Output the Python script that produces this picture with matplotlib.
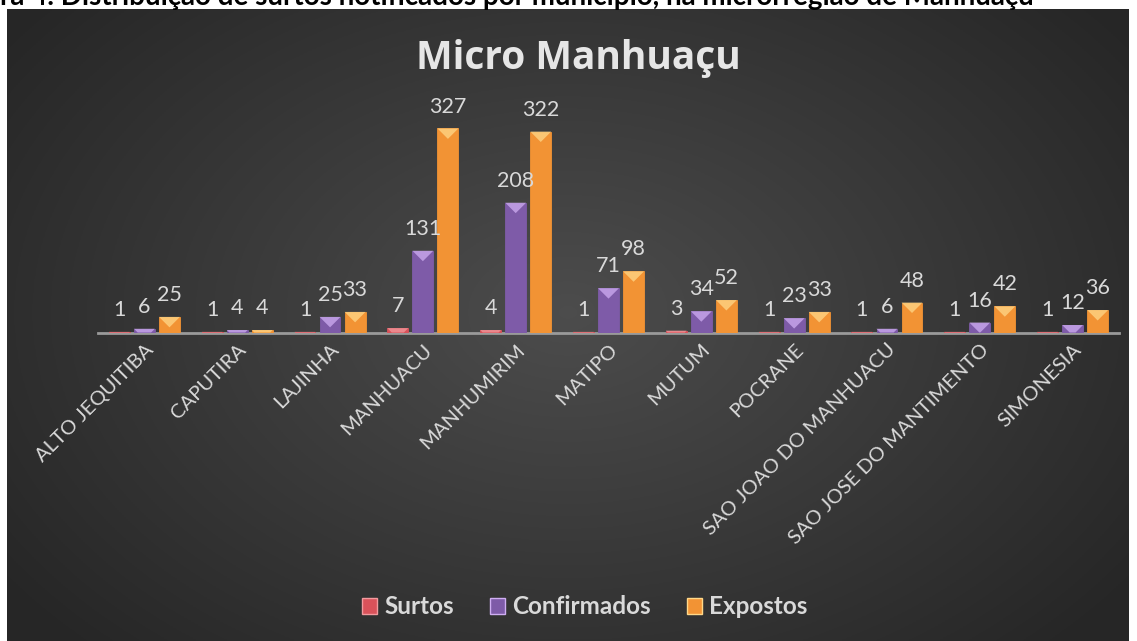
import numpy as np
import matplotlib
matplotlib.use("Agg")
import matplotlib.pyplot as plt
from matplotlib.patches import Polygon, Patch

plt.rcParams['font.family'] = ['Lato', 'DejaVu Sans']

municipios = ["ALTO JEQUITIBA", "CAPUTIRA", "LAJINHA", "MANHUACU", "MANHUMIRIM",
              "MATIPO", "MUTUM", "POCRANE", "SAO JOAO DO MANHUACU",
              "SAO JOSE DO MANTIMENTO", "SIMONESIA"]
surtos = [1, 1, 1, 7, 4, 1, 3, 1, 1, 1, 1]
confirmados = [6, 4, 25, 131, 208, 71, 34, 23, 6, 16, 12]
expostos = [25, 4, 33, 327, 322, 98, 52, 33, 48, 42, 36]

series = [
    ("Surtos", surtos, "#d9525a", "#f29a9e"),
    ("Confirmados", confirmados, "#7e5ba8", "#cfaef2"),
    ("Expostos", expostos, "#f29334", "#ffd889"),
]

W, H = 1137, 641
fig = plt.figure(figsize=(W / 100, H / 100), dpi=100)
fig.patch.set_facecolor("white")

# fundo escuro com gradiente radial
bg = fig.add_axes([7 / W, 0, (1129 - 7) / W, (H - 9) / H])
yy, xx = np.mgrid[0:1:300j, 0:1:500j]
r = np.sqrt(((xx - 0.5) / 0.62) ** 2 + ((yy - 0.48) / 0.75) ** 2)
r = np.clip(r, 0, 1)
shade = 0.30 - 0.15 * r
bg.imshow(np.dstack([shade, shade, shade]), aspect="auto", extent=[0, 1, 0, 1])
bg.set_axis_off()

# legenda da figura (cortada no topo)
fig.text(0, (H - 5) / H, "ra 4. Distribuição de surtos notificados por município, na microrregião de Manhuaçu",
         fontsize=20, fontweight="bold", color="black", ha="left", va="baseline")

ax = fig.add_axes([98 / W, (H - 332.5) / H, (1119 - 98) / W, 218.4 / H])
ax.patch.set_alpha(0)
ax.set_xlim(-0.5, len(municipios) - 0.5)
ax.set_ylim(0, 350)

x = np.arange(len(municipios))
bw = 0.225
offsets = [-0.27, 0.0, 0.27]
px_per_unit = 218.4 / 350
px_per_x = (1119 - 98) / len(municipios)

for (name, vals, col, hi), off in zip(series, offsets):
    ax.bar(x + off, vals, width=bw, color=col, edgecolor=col, linewidth=0.6, zorder=3)
    for xi, v in zip(x + off, vals):
        # brilho chanfrado no topo da barra
        depth_px = bw / 2 * px_per_x
        d = min(depth_px / px_per_unit, v)
        frac = d / (depth_px / px_per_unit)
        half = bw / 2
        inner = half * (1 - frac)
        poly = Polygon([(xi - half, v), (xi + half, v), (xi + inner, v - d), (xi - inner, v - d)],
                       closed=True, facecolor=hi, edgecolor="none", alpha=0.75, zorder=4)
        ax.add_patch(poly)
        ax.text(xi, v + 19, str(v), ha="center", va="bottom", fontsize=15.5, color="#d9d9d9", zorder=5)

for s in ["top", "left", "right"]:
    ax.spines[s].set_visible(False)
ax.spines["bottom"].set_color("#9a9a9a")
ax.spines["bottom"].set_linewidth(2)
ax.set_yticks([])
ax.set_xticks(x)
ax.set_xticklabels(municipios, rotation=45, ha="right", rotation_mode="anchor",
                   fontsize=14.5, color="#d9d9d9")
ax.tick_params(axis="x", length=0, pad=6)

fig.text(578 / W, (H - 58) / H, "Micro Manhuaçu", ha="center", va="center",
         fontsize=28, fontweight="bold", color="#e6e6e6", family=["Open Sans", "DejaVu Sans"])

handles = [Patch(facecolor=col, edgecolor=hi, label=name) for name, _, col, hi in series]
leg = fig.legend(handles=handles, loc="center", bbox_to_anchor=(585 / W, (H - 607) / H),
                 ncol=3, frameon=False, fontsize=17.5, handlelength=0.6, handleheight=0.6,
                 handletextpad=0.3, columnspacing=1.5)
for t in leg.get_texts():
    t.set_color("#d9d9d9")
    t.set_fontweight("bold")

fig.savefig("out.png", dpi=100)
